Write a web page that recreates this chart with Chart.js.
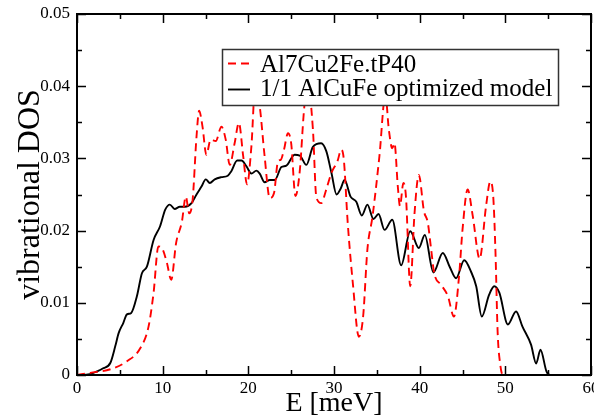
<!DOCTYPE html>
<html>
<head>
<meta charset="utf-8">
<script src="https://cdn.jsdelivr.net/npm/chart.js@4"></script>
<style>
  html, body { margin: 0; padding: 0; background: #fff; }
  #wrap { width: 594px; height: 420px; }
</style>
</head>
<body>
<div id="wrap"><canvas id="dosChart" width="594" height="420"></canvas></div>
<script>
// data
const seriesNames = ['Al7Cu2Fe.tP40', '1/1 AlCuFe optimized model'];

const tp40E = [0, 1.55, 3.9, 5.83, 7.38, 8.35, 8.94, 9.5, 10.0, 10.5, 11.0, 11.57, 12.24, 12.7, 13.1, 13.5,
    13.95, 14.26, 14.65, 15.1, 15.6, 16.2, 16.86, 17.36, 17.83, 18.4, 18.9, 19.4, 19.85, 20.36, 20.8,
    21.33, 21.9, 22.5, 23.0, 23.46, 23.78, 24.16, 24.63, 25.0, 25.5, 26.0, 26.5, 26.9, 27.54, 27.93,
    28.5, 29.1, 29.7, 30.4, 30.85, 31.15, 31.6, 32.2, 32.9, 33.4, 33.9, 34.5, 35.3, 36.0, 36.4, 36.8,
    37.06, 37.45, 37.7, 38.1, 38.4, 38.9, 39.4, 39.9, 40.5, 40.95, 41.3, 41.7, 42.5, 43.3, 44.0, 44.6,
    45.0, 45.6, 46.2, 47.0, 47.75, 48.25, 48.6, 48.85, 49.1, 49.4, 49.7, 50.5];
const tp40Dos = [0, 0.0003, 0.0008, 0.0019, 0.0037, 0.0067, 0.0114, 0.0178, 0.0174, 0.0155, 0.0132, 0.0183, 0.0212, 0.0247, 0.0224, 0.0243,
    0.0330, 0.0366, 0.0344, 0.0305, 0.0326, 0.0324, 0.0344, 0.0326, 0.0291, 0.0321, 0.0349, 0.0303, 0.0264, 0.0317, 0.0400,
    0.0372, 0.0303, 0.0245, 0.0252, 0.0296, 0.0298, 0.0312, 0.0335, 0.0321, 0.0248, 0.0282, 0.0367, 0.0405, 0.0340, 0.0247,
    0.0238, 0.0257, 0.0280, 0.0296, 0.0312, 0.0298, 0.0211, 0.0127, 0.0053, 0.0081, 0.0174, 0.0220, 0.0303, 0.0388, 0.0340, 0.0314,
    0.0321, 0.0261, 0.0234, 0.0266, 0.0247, 0.0123, 0.0224, 0.0277, 0.0227, 0.0211, 0.0178, 0.0141, 0.0125, 0.0109, 0.0081, 0.0137,
    0.0201, 0.0257, 0.0220, 0.0161, 0.0234, 0.0268, 0.0245, 0.0170, 0.0060, 0.0015, 0, 0];

const modelE = [0, 0.5, 1.5, 2.33, 3.0, 3.9, 4.47, 4.86, 5.4, 5.83, 6.33, 6.99, 7.58, 8.16, 8.94, 9.7, 10.3, 10.84,
    11.4, 12.0, 12.6, 13.37, 13.95, 14.53, 15.03, 15.5, 16.08, 16.86, 17.6, 18.0, 18.7, 19.2, 19.78, 20.36,
    20.94, 21.33, 21.9, 22.5, 23.08, 23.86, 24.44, 25.4, 26.0, 26.77, 27.54, 28.5, 29.1, 29.7, 30.3, 30.77,
    31.24, 31.93, 32.6, 33.25, 33.9, 34.6, 35.2, 35.9, 36.8, 37.84, 38.9, 39.9, 40.6, 41.6, 42.7, 43.5,
    44.25, 45.2, 46.0, 46.6, 47.25, 48.1, 48.7, 49.3, 50.3, 51.25, 52.0, 53.0, 53.6, 54.1, 54.8, 55.2, 60];
const modelDos = [0, 0, 0.0001, 0.0005, 0.0009, 0.0017, 0.0040, 0.0058, 0.0072, 0.0084, 0.0086, 0.0109, 0.0141, 0.0150, 0.0187, 0.0206, 0.0229, 0.0236,
    0.0230, 0.0233, 0.0233, 0.0238, 0.0250, 0.0261, 0.0271, 0.0266, 0.0271, 0.0274, 0.0276, 0.0282, 0.0297, 0.0297, 0.0289, 0.0279,
    0.0283, 0.0279, 0.0267, 0.0270, 0.0270, 0.0288, 0.0290, 0.0305, 0.0304, 0.0291, 0.0316, 0.0321, 0.0310, 0.0280, 0.0250, 0.0258,
    0.0270, 0.0247, 0.0240, 0.0221, 0.0236, 0.0216, 0.0223, 0.0201, 0.0215, 0.0152, 0.0199, 0.0176, 0.0194, 0.0142, 0.0169, 0.0150,
    0.0134, 0.0159, 0.0143, 0.0123, 0.0081, 0.0111, 0.0123, 0.0114, 0.0070, 0.0088, 0.0067, 0.0042, 0.0016, 0.0035, 0.0005, 0, 0];

const xTickLabels = ['0', '10', '20', '30', '40', '50', '60'];
const yTickLabels = ['0', '0.01', '0.02', '0.03', '0.04', '0.05'];

const serif = "'Liberation Serif', 'DejaVu Serif', serif";

function toPoints(xs, ys) {
    return xs.map((x, i) => ({x: x, y: ys[i]}));
}

// inward ticks on all four sides plus the frame, like xmgrace
const frameTicks = {
    id: 'frameTicks',
    afterDatasetsDraw(chart) {
        const {ctx, chartArea: a, scales} = chart;
        const xs = scales.x, ys = scales.y;
        ctx.save();
        ctx.strokeStyle = '#000';
        ctx.lineWidth = 1.5;
        ctx.beginPath();
        for (let v = xs.min; v <= xs.max + 1e-9; v += 5) {
            const px = Math.round(xs.getPixelForValue(v)) + 0.5;
            const len = (Math.round(v) % 10 === 0) ? 9 : 5;
            ctx.moveTo(px, a.bottom); ctx.lineTo(px, a.bottom - len);
            ctx.moveTo(px, a.top); ctx.lineTo(px, a.top + len);
        }
        for (let k = 0; k <= 10; k++) {
            const v = k * 0.005;
            const py = Math.round(ys.getPixelForValue(v)) + 0.5;
            const len = (k % 2 === 0) ? 9 : 5;
            ctx.moveTo(a.left, py); ctx.lineTo(a.left + len, py);
            ctx.moveTo(a.right, py); ctx.lineTo(a.right - len, py);
        }
        ctx.stroke();
        ctx.lineWidth = 2;
        ctx.strokeRect(a.left, a.top, a.right - a.left, a.bottom - a.top);
        ctx.restore();
    }
};

// boxed legend drawn on top of the curves
const boxLegend = {
    id: 'boxLegend',
    afterDatasetsDraw(chart) {
        const ctx = chart.ctx;
        ctx.save();
        ctx.fillStyle = '#fff';
        ctx.fillRect(222, 49, 336, 56);
        ctx.strokeStyle = '#333';
        ctx.lineWidth = 1.5;
        ctx.strokeRect(222.5, 49.5, 336, 56);
        const rows = [63.5, 89.5];
        const baselines = [72, 96];
        chart.data.datasets.forEach((ds, i) => {
            ctx.strokeStyle = ds.borderColor;
            ctx.lineWidth = ds.borderWidth;
            ctx.setLineDash(ds.borderDash || []);
            ctx.beginPath();
            ctx.moveTo(228, rows[i]);
            ctx.lineTo(250, rows[i]);
            ctx.stroke();
            ctx.setLineDash([]);
            ctx.fillStyle = '#000';
            ctx.font = '25px ' + serif;
            ctx.textBaseline = 'alphabetic';
            ctx.fillText(ds.label, 260, baselines[i]);
        });
        ctx.restore();
    }
};

new Chart(document.getElementById('dosChart'), {
    type: 'line',
    data: {
        datasets: [{
            label: seriesNames[0],
            data: toPoints(tp40E, tp40Dos),
            borderColor: '#ff0000',
            borderWidth: 1.9,
            borderDash: [8, 5],
            pointRadius: 0,
            fill: false,
            cubicInterpolationMode: 'monotone'
        }, {
            label: seriesNames[1],
            data: toPoints(modelE, modelDos),
            borderColor: '#000000',
            borderWidth: 1.9,
            pointRadius: 0,
            fill: false,
            cubicInterpolationMode: 'monotone'
        }]
    },
    options: {
        responsive: false,
        animation: false,
        devicePixelRatio: 1,
        layout: {padding: {top: 14, right: 3, left: 0, bottom: 0}},
        plugins: {
            legend: {display: false},
            tooltip: {enabled: false}
        },
        scales: {
            x: {
                type: 'linear',
                min: 0,
                max: 60,
                grid: {display: false, drawTicks: false},
                border: {display: false},
                ticks: {
                    stepSize: 10,
                    padding: 3,
                    color: '#000',
                    font: {family: serif, size: 17},
                    maxRotation: 0,
                    autoSkip: false,
                    callback: (v, i) => xTickLabels[i]
                },
                title: {
                    display: true,
                    text: 'E [meV]',
                    color: '#000',
                    font: {family: serif, size: 28},
                    padding: {top: 0, bottom: 0}
                },
                afterFit(scale) {
                    scale.height = 45;
                    scale.paddingLeft = 0;
                    scale.paddingRight = 0;
                }
            },
            y: {
                min: 0,
                max: 0.05,
                grid: {display: false, drawTicks: false},
                border: {display: false},
                ticks: {
                    stepSize: 0.01,
                    padding: 7,
                    color: '#000',
                    font: {family: serif, size: 17},
                    autoSkip: false,
                    callback: (v, i) => yTickLabels[i]
                },
                title: {
                    display: true,
                    text: 'vibrational DOS',
                    color: '#000',
                    font: {family: serif, size: 32},
                    padding: {top: 11, bottom: 0}
                },
                afterFit(scale) {
                    scale.width = 77;
                    scale.paddingTop = 0;
                    scale.paddingBottom = 0;
                }
            }
        }
    },
    plugins: [frameTicks, boxLegend]
});
</script>
</body>
</html>
